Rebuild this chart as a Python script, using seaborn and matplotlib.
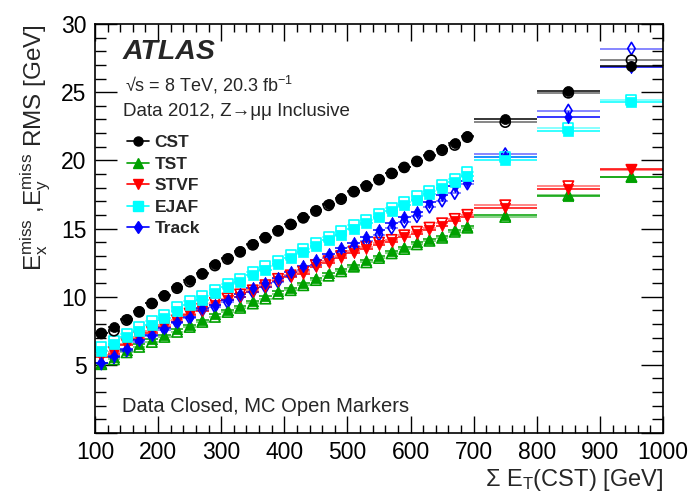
import numpy as np
import pandas as pd
import matplotlib
matplotlib.use("Agg")
import matplotlib.pyplot as plt
from matplotlib.lines import Line2D
from matplotlib.ticker import MultipleLocator, FixedLocator
import seaborn as sns

# ---------------- data ----------------
bin_lo = [100, 120, 140, 160, 180, 200, 220, 240, 260, 280, 300, 320, 340, 360, 380,
          400, 420, 440, 460, 480, 500, 520, 540, 560, 580, 600, 620, 640, 660, 680,
          700, 800, 900]
bin_hi = [120, 140, 160, 180, 200, 220, 240, 260, 280, 300, 320, 340, 360, 380, 400,
          420, 440, 460, 480, 500, 520, 540, 560, 580, 600, 620, 640, 660, 680, 700,
          800, 900, 1000]

cst_data = [7.36, 7.80, 8.36, 8.95, 9.56, 10.15, 10.70, 11.20, 11.74, 12.37, 12.86, 13.37,
            13.87, 14.40, 14.90, 15.36, 15.85, 16.36, 16.78, 17.22, 17.78, 18.17, 18.65,
            19.10, 19.54, 19.98, 20.40, 20.80, 21.25, 21.77, 23.00, 25.10, 26.95]
cst_mc = [7.30, 7.50, 8.28, 8.88, 9.50, 10.05, 10.62, 11.10, 11.66, 12.28, 12.76, 13.28,
          13.80, 14.32, 14.82, 15.30, 15.78, 16.28, 16.70, 17.15, 17.70, 18.10, 18.58,
          19.04, 19.48, 19.92, 20.34, 20.74, 21.12, 21.70, 22.80, 24.95, 27.35]

tst_data = [5.15, 5.60, 6.12, 6.50, 6.86, 7.22, 7.60, 7.95, 8.32, 8.70, 9.05, 9.35,
            9.66, 10.02, 10.40, 10.64, 11.00, 11.38, 11.70, 12.02, 12.35, 12.66, 12.98,
            13.32, 13.64, 13.98, 14.22, 14.48, 14.92, 15.22, 16.00, 17.35, 18.75]
tst_mc = [5.05, 5.40, 5.92, 6.32, 6.68, 7.05, 7.42, 7.78, 8.15, 8.52, 8.88, 9.18,
          9.50, 9.86, 10.22, 10.48, 10.84, 11.22, 11.54, 11.86, 12.20, 12.52, 12.84,
          13.18, 13.50, 13.84, 14.10, 14.32, 14.76, 15.06, 15.85, 17.45, 18.80]

stvf_data = [5.55, 5.82, 6.42, 6.92, 7.33, 7.76, 8.14, 8.62, 8.98, 9.42, 9.72, 10.00,
             10.33, 10.70, 11.16, 11.43, 11.68, 12.15, 12.46, 12.85, 13.18, 13.50, 13.82,
             14.00, 14.36, 14.60, 14.90, 15.20, 15.52, 15.82, 16.50, 17.90, 19.40]
stvf_mc = [5.70, 5.95, 6.55, 7.05, 7.45, 7.90, 8.26, 8.76, 9.12, 9.55, 9.86, 10.16,
           10.46, 10.84, 11.30, 11.56, 11.82, 12.30, 12.60, 12.98, 13.32, 13.64, 13.96,
           14.16, 14.50, 14.76, 15.06, 15.38, 15.70, 16.00, 16.70, 18.10, 19.30]

ejaf_data = [6.05, 6.53, 7.02, 7.50, 7.95, 8.43, 8.97, 9.41, 9.78, 10.27, 10.70, 11.08,
             11.56, 11.98, 12.40, 12.84, 13.25, 13.70, 14.13, 14.55, 14.99, 15.40, 15.83,
             16.26, 16.70, 17.12, 17.53, 17.97, 18.40, 18.88, 20.00, 22.15, 24.30]
ejaf_mc = [6.30, 6.78, 7.27, 7.75, 8.20, 8.68, 9.22, 9.66, 10.03, 10.52, 10.95, 11.33,
           11.81, 12.23, 12.65, 13.09, 13.50, 13.95, 14.38, 14.80, 15.24, 15.65, 16.08,
           16.51, 16.95, 17.37, 17.78, 18.22, 18.65, 19.12, 20.25, 22.40, 24.40]

track_data = [5.16, 5.65, 6.14, 6.82, 7.19, 7.68, 8.17, 8.53, 9.15, 9.39, 9.76, 10.20,
              10.61, 10.98, 11.40, 11.83, 12.25, 12.69, 13.10, 13.60, 13.92, 14.36, 14.90,
              15.38, 15.82, 16.24, 16.97, 17.46, 18.12, 18.51, 20.25, 23.20, 26.85]
track_mc = [5.10, 5.55, 6.05, 6.70, 7.10, 7.58, 8.05, 8.42, 9.00, 9.25, 9.60, 10.00,
            10.35, 10.70, 11.10, 11.55, 11.95, 12.35, 12.80, 13.25, 13.62, 14.05, 14.55,
            15.05, 15.50, 15.90, 16.60, 17.05, 17.60, 18.30, 20.45, 23.65, 28.20]

methods = ["CST", "TST", "STVF", "EJAF", "Track"]
colors = {"CST": "black", "TST": "#00a000", "STVF": "#ff0000",
          "EJAF": "#00ffff", "Track": "#0000ff"}
markers = {"CST": "o", "TST": "^", "STVF": "v", "EJAF": "s", "Track": "d"}
msize = {"CST": 52, "TST": 56, "STVF": 56, "EJAF": 52, "Track": 40}
values = {"CST": (cst_data, cst_mc), "TST": (tst_data, tst_mc),
          "STVF": (stvf_data, stvf_mc), "EJAF": (ejaf_data, ejaf_mc),
          "Track": (track_data, track_mc)}

lo = np.array(bin_lo, float)
hi = np.array(bin_hi, float)
xc = 0.5 * (lo + hi)
xe = 0.5 * (hi - lo)

rows = []
for m in methods:
    d, mc = values[m]
    for i in range(len(xc)):
        rows.append(dict(method=m, sample="Data", x=xc[i], xerr=xe[i], y=d[i]))
        rows.append(dict(method=m, sample="MC", x=xc[i], xerr=xe[i], y=mc[i]))
df = pd.DataFrame(rows)

# ---------------- style ----------------
sns.set_theme(style="ticks")
plt.rcParams.update({
    "font.family": ["Liberation Sans", "DejaVu Sans"],
    "mathtext.fontset": "custom",
    "mathtext.rm": "Liberation Sans",
    "mathtext.it": "Liberation Sans:italic",
    "mathtext.bf": "Liberation Sans:bold",
    "xtick.direction": "in", "ytick.direction": "in",
    "xtick.top": True, "ytick.right": True,
    "xtick.bottom": True, "ytick.left": True,
    "xtick.major.size": 12, "xtick.minor.size": 6,
    "ytick.major.size": 16, "ytick.minor.size": 8,
    "xtick.major.width": 1.0, "xtick.minor.width": 1.0,
    "ytick.major.width": 1.0, "ytick.minor.width": 1.0,
    "xtick.minor.visible": True, "ytick.minor.visible": True,
    "xtick.color": "black", "ytick.color": "black",
    "xtick.labelsize": 16.5, "ytick.labelsize": 16.5,
})

fig = plt.figure(figsize=(6.96, 4.93), dpi=100)
ax = fig.add_axes([95 / 696, 1 - 433 / 493, 568 / 696, 409 / 493])

order = ["TST", "STVF", "Track", "EJAF", "CST"]
for m in order:
    c = colors[m]
    sub = df[df.method == m]
    dd = sub[sub["sample"] == "Data"]
    mm = sub[sub["sample"] == "MC"]
    ax.errorbar(mm.x, mm.y, xerr=mm.xerr, fmt="none", ecolor=c, elinewidth=1.1,
                alpha=0.6, capsize=0, linestyle="--", zorder=2)
    ax.errorbar(dd.x, dd.y, xerr=dd.xerr, fmt="none", ecolor=c, elinewidth=1.1,
                capsize=0, zorder=2)
    sns.scatterplot(data=mm, x="x", y="y", ax=ax, marker=markers[m], s=msize[m],
                    facecolor="none", edgecolor=c, linewidth=1.2, zorder=3,
                    legend=False)
    sns.scatterplot(data=dd, x="x", y="y", ax=ax, marker=markers[m], s=msize[m],
                    color=c, edgecolor=c, linewidth=0.5, zorder=4, legend=False)

ax.set_xlim(100, 1000)
ax.set_ylim(0, 30)
ax.xaxis.set_major_locator(MultipleLocator(100))
ax.xaxis.set_minor_locator(MultipleLocator(20))
ax.yaxis.set_major_locator(FixedLocator([0, 5, 10, 15, 20, 25, 30]))
ax.yaxis.set_minor_locator(MultipleLocator(1))
ax.set_yticklabels(["", "5", "10", "15", "20", "25", "30"])
ax.tick_params(axis="both", which="both", direction="in", top=True, right=True,
               bottom=True, left=True, colors="black", zorder=10)
ax.tick_params(axis="x", which="major", length=12, width=1.0, pad=6)
ax.tick_params(axis="x", which="minor", length=6, width=1.0)
ax.tick_params(axis="y", which="major", length=16, width=1.0, pad=6)
ax.tick_params(axis="y", which="minor", length=8, width=1.0)
for sp in ax.spines.values():
    sp.set_linewidth(1.2)
    sp.set_color("black")
    sp.set_zorder(10)

ax.set_xlabel(r"Σ E$_{\mathrm{T}}$(CST) [GeV]", fontsize=17, loc="right", labelpad=2)
ax.set_ylabel(r"E$_{\mathrm{x}}^{\mathrm{miss}}$ ,E$_{\mathrm{y}}^{\mathrm{miss}}$ RMS [GeV]",
              fontsize=17.5, loc="top", labelpad=6)

ax.text(0.049, 0.932, "ATLAS", transform=ax.transAxes, fontsize=20.5,
        fontweight="bold", fontstyle="italic", va="center", ha="left")
ax.text(0.053, 0.851, r"√s = 8 TeV, 20.3 fb$^{-1}$", transform=ax.transAxes,
        fontsize=13, va="center", ha="left")
ax.text(0.049, 0.785, "Data 2012, Z→μμ Inclusive", transform=ax.transAxes,
        fontsize=13.5, va="center", ha="left")
ax.text(0.048, 0.064, "Data Closed, MC Open Markers", transform=ax.transAxes,
        fontsize=14.5, va="center", ha="left")

handles = [Line2D([0], [0], color=colors[m], marker=markers[m], markersize=6.5,
                  linewidth=1.2, markeredgecolor=colors[m]) for m in methods]
leg = ax.legend(handles, methods, loc="upper left", bbox_to_anchor=(0.056, 0.728),
                frameon=False, fontsize=12.5, handlelength=1.3, handletextpad=0.3,
                labelspacing=0.36, borderpad=0, borderaxespad=0)
for t in leg.get_texts():
    t.set_fontweight("bold")

fig.savefig("out.png", dpi=100)
